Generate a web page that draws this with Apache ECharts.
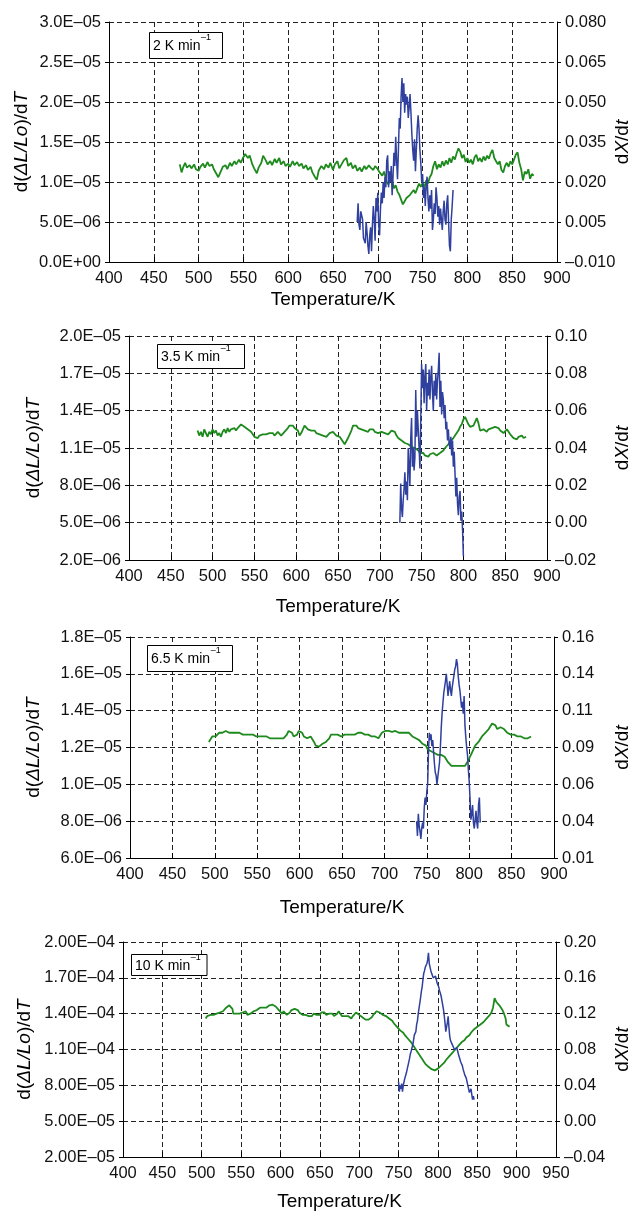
<!DOCTYPE html>
<html><head><meta charset="utf-8">
<script src="https://cdn.jsdelivr.net/npm/echarts@6/dist/echarts.min.js"></script>
<style>html,body{margin:0;padding:0;background:#fff}#c{width:631px;height:1211px}</style>
</head><body><div id="c"></div>
<script>
// ---------- tick labels ----------
const p1LeftLabels = ['0.0E+00','5.0E–06','1.0E–05','1.5E–05','2.0E–05','2.5E–05','3.0E–05'];
const p1RightLabels = ['–0.010','0.005','0.020','0.035','0.050','0.065','0.080'];
const p2LeftLabels = ['2.0E–06','5.0E–06','8.0E–06','1.1E–05','1.4E–05','1.7E–05','2.0E–05'];
const p2RightLabels = ['–0.02','0.00','0.02','0.04','0.06','0.08','0.10'];
const p3LeftLabels = ['6.0E–06','8.0E–06','1.0E–05','1.2E–05','1.4E–05','1.6E–05','1.8E–05'];
const p3RightLabels = ['0.01','0.04','0.06','0.09','0.11','0.14','0.16'];
const p4LeftLabels = ['2.00E–05','5.00E–05','8.00E–05','1.10E–04','1.40E–04','1.70E–04','2.00E–04'];
const p4RightLabels = ['–0.04','0.00','0.04','0.08','0.12','0.16','0.20'];
const heatingRates = ['2', '3.5', '6.5', '10'];

// ---------- data: [T (K), value] ----------
// green: d(ΔL/Lo)/dT, panels 1-3 in units of 1E-05, panel 4 in units of 1E-04
// blue: dX/dt
const p1Green = [[479,1.22],[481,1.12],[483,1.19],[485,1.24],[487,1.18],[490,1.21],[492,1.17],[495,1.22],[497,1.16],[500,1.14],[502,1.19],[505,1.23],[507,1.18],[510,1.25],[512,1.2],[515,1.22],[517,1.16],[520,1.10],[522,1.06],[525,1.14],[527,1.19],[530,1.21],[532,1.16],[535,1.24],[537,1.2],[540,1.26],[542,1.22],[545,1.28],[547,1.24],[550,1.31],[552,1.35],[555,1.3],[557,1.33],[560,1.22],[562,1.17],[565,1.11],[567,1.18],[570,1.24],[572,1.33],[575,1.27],[577,1.22],[580,1.26],[582,1.21],[585,1.29],[587,1.24],[590,1.3],[592,1.22],[595,1.26],[597,1.2],[600,1.23],[602,1.19],[605,1.26],[607,1.21],[610,1.25],[612,1.2],[615,1.23],[617,1.17],[620,1.21],[622,1.15],[625,1.19],[627,1.12],[630,1.06],[632,1.03],[634,1.14],[637,1.2],[640,1.16],[642,1.22],[645,1.18],[647,1.24],[650,1.15],[652,1.22],[655,1.26],[657,1.17],[660,1.23],[662,1.27],[665,1.3],[667,1.2],[670,1.24],[672,1.17],[675,1.21],[677,1.14],[680,1.18],[682,1.13],[685,1.2],[687,1.16],[690,1.21],[692,1.18],[695,1.15],[697,1.2],[700,1.16],[702,1.12],[705,1.08],[707,1.13],[710,1.0],[712,0.97],[714,1.07],[716,1.02],[718,0.92],[720,0.96],[722,0.88],[724,0.84],[726,0.78],[728,0.72],[730,0.76],[732,0.8],[734,0.78],[736,0.84],[738,0.82],[740,0.9],[742,0.86],[744,0.92],[746,0.98],[748,0.94],[750,0.99],[752,0.93],[754,1.02],[756,0.98],[758,1.06],[760,1.1],[762,1.2],[764,1.26],[766,1.16],[768,1.22],[770,1.18],[772,1.26],[774,1.2],[776,1.27],[778,1.22],[780,1.3],[782,1.24],[784,1.32],[786,1.28],[788,1.36],[790,1.42],[792,1.38],[794,1.3],[796,1.34],[798,1.25],[800,1.3],[802,1.24],[804,1.28],[806,1.22],[808,1.31],[810,1.34],[812,1.26],[814,1.3],[816,1.25],[818,1.32],[820,1.27],[822,1.33],[824,1.29],[826,1.36],[828,1.4],[830,1.3],[832,1.26],[834,1.22],[836,1.26],[838,1.15],[840,1.12],[842,1.2],[844,1.24],[846,1.19],[848,1.26],[850,1.22],[852,1.28],[854,1.34],[856,1.37],[858,1.24],[860,1.16],[862,1.02],[864,1.13],[866,1.1],[868,1.16],[870,1.04],[872,1.1],[874,1.08]];
const p1Blue = [[677,0.005],[678,0.012],[679,0.004],[680,0.002],[681,0.009],[683,0.006],[684,-0.001],[686,-0.003],[687,0.005],[688,0.001],[689,-0.004],[690,-0.007],[691,0.0],[692,0.003],[693,-0.006],[694,0.004],[695,0.011],[696,0.006],[697,-0.002],[698,0.014],[699,0.009],[700,0.016],[701,0.004],[702,0.0],[703,0.01],[704,0.016],[705,0.012],[706,0.02],[707,0.014],[708,0.022],[709,0.018],[710,0.028],[711,0.03],[712,0.018],[713,0.024],[714,0.02],[715,0.026],[716,0.015],[717,0.022],[718,0.031],[719,0.026],[720,0.037],[721,0.028],[722,0.021],[723,0.032],[724,0.044],[725,0.04],[726,0.052],[727,0.059],[728,0.05],[729,0.057],[730,0.046],[731,0.053],[732,0.049],[733,0.052],[734,0.044],[735,0.048],[736,0.053],[737,0.046],[738,0.038],[739,0.032],[740,0.028],[741,0.036],[742,0.024],[743,0.032],[744,0.04],[745,0.045],[746,0.04],[747,0.032],[748,0.027],[749,0.02],[750,0.023],[751,0.014],[752,0.018],[753,0.011],[754,0.019],[755,0.022],[756,0.014],[757,0.009],[758,0.015],[759,0.01],[760,0.017],[761,0.002],[762,0.006],[763,0.012],[764,0.008],[765,0.018],[766,0.014],[767,0.007],[768,0.011],[769,0.004],[770,0.01],[771,0.006],[772,0.002],[773,0.009],[774,0.013],[775,0.006],[776,0.004],[777,0.012],[778,0.015],[779,0.005],[780,-0.004],[781,-0.006],[782,0.006],[783,0.011],[784,0.017]];

const p2Green = [[482,1.24],[484,1.2],[486,1.23],[488,1.19],[490,1.25],[492,1.22],[494,1.19],[496,1.23],[498,1.21],[500,1.25],[502,1.22],[504,1.24],[506,1.2],[508,1.22],[510,1.19],[512,1.23],[514,1.25],[516,1.22],[518,1.26],[520,1.23],[522,1.25],[524,1.24],[526,1.26],[528,1.24],[530,1.26],[532,1.27],[534,1.29],[536,1.28],[538,1.27],[540,1.26],[542,1.25],[544,1.25],[546,1.23],[548,1.22],[550,1.19],[552,1.2],[554,1.18],[556,1.2],[558,1.19],[560,1.21],[562,1.2],[564,1.21],[566,1.2],[568,1.22],[570,1.21],[572,1.22],[574,1.2],[576,1.21],[578,1.23],[580,1.22],[582,1.2],[584,1.21],[586,1.23],[588,1.24],[590,1.26],[592,1.28],[594,1.29],[596,1.28],[598,1.26],[600,1.27],[602,1.24],[604,1.2],[606,1.22],[608,1.25],[610,1.28],[612,1.27],[614,1.25],[616,1.26],[618,1.24],[620,1.23],[622,1.24],[624,1.22],[626,1.23],[628,1.21],[630,1.22],[632,1.2],[634,1.21],[636,1.19],[638,1.2],[640,1.22],[642,1.21],[644,1.23],[646,1.22],[648,1.2],[650,1.21],[652,1.19],[654,1.17],[656,1.16],[658,1.13],[660,1.14],[662,1.18],[664,1.21],[666,1.24],[668,1.28],[670,1.27],[672,1.28],[674,1.26],[676,1.27],[678,1.25],[680,1.26],[682,1.24],[684,1.25],[686,1.23],[688,1.25],[690,1.24],[692,1.25],[694,1.23],[696,1.24],[698,1.22],[700,1.21],[702,1.23],[704,1.24],[706,1.22],[708,1.23],[710,1.21],[712,1.22],[714,1.24],[716,1.25],[718,1.23],[720,1.2],[722,1.18],[724,1.17],[726,1.16],[728,1.15],[730,1.14],[732,1.15],[734,1.13],[736,1.12],[738,1.11],[740,1.1],[742,1.1],[744,1.09],[746,1.08],[748,1.06],[750,1.05],[752,1.06],[754,1.04],[756,1.05],[758,1.03],[760,1.05],[762,1.04],[764,1.06],[766,1.05],[768,1.04],[770,1.05],[772,1.06],[774,1.06],[776,1.08],[778,1.1],[780,1.11],[782,1.13],[784,1.15],[786,1.16],[788,1.18],[790,1.2],[792,1.22],[794,1.24],[796,1.27],[798,1.29],[800,1.33],[802,1.35],[804,1.32],[806,1.29],[808,1.27],[810,1.26],[812,1.28],[814,1.31],[816,1.34],[818,1.3],[820,1.24],[822,1.23],[824,1.25],[826,1.24],[828,1.23],[830,1.25],[832,1.24],[834,1.26],[836,1.25],[838,1.27],[840,1.28],[842,1.26],[844,1.24],[846,1.23],[848,1.22],[850,1.23],[852,1.25],[854,1.23],[856,1.21],[858,1.2],[860,1.18],[862,1.19],[864,1.17],[866,1.19],[868,1.18],[870,1.2],[872,1.18],[875,1.19]];
const p2Blue = [[724,0.0],[725,0.021],[726,0.008],[727,0.003],[728,0.012],[729,0.018],[730,0.027],[731,0.015],[732,0.022],[733,0.012],[734,0.04],[735,0.03],[736,0.02],[737,0.045],[738,0.056],[739,0.03],[740,0.04],[741,0.028],[742,0.035],[743,0.071],[744,0.046],[745,0.06],[746,0.05],[747,0.04],[748,0.029],[749,0.055],[750,0.085],[751,0.072],[752,0.082],[753,0.064],[754,0.078],[755,0.085],[756,0.06],[757,0.075],[758,0.068],[759,0.082],[760,0.066],[761,0.078],[762,0.084],[763,0.07],[764,0.06],[765,0.076],[766,0.068],[767,0.08],[768,0.066],[769,0.076],[770,0.082],[771,0.091],[772,0.062],[773,0.076],[774,0.058],[775,0.07],[776,0.066],[777,0.056],[778,0.063],[779,0.05],[780,0.054],[781,0.044],[782,0.05],[783,0.042],[784,0.04],[785,0.046],[786,0.036],[787,0.044],[788,0.03],[789,0.038],[790,0.026],[791,0.014],[792,0.024],[793,0.01],[794,0.004],[795,0.014],[796,0.017],[797,0.001],[798,0.006],[799,-0.004],[800,-0.018]];

const p3Green = [[493,1.23],[495,1.24],[497,1.26],[499,1.27],[501,1.26],[503,1.27],[505,1.28],[507,1.27],[509,1.28],[511,1.27],[513,1.29],[515,1.285],[517,1.28],[519,1.27],[521,1.28],[523,1.29],[525,1.28],[527,1.29],[529,1.28],[531,1.28],[533,1.27],[535,1.28],[537,1.27],[539,1.28],[541,1.27],[543,1.26],[545,1.27],[547,1.265],[549,1.26],[551,1.27],[553,1.26],[555,1.27],[557,1.26],[559,1.27],[561,1.26],[563,1.26],[565,1.25],[567,1.26],[569,1.25],[571,1.24],[573,1.25],[575,1.26],[577,1.25],[579,1.26],[581,1.25],[583,1.26],[585,1.27],[587,1.29],[589,1.3],[591,1.28],[593,1.26],[595,1.25],[597,1.27],[599,1.29],[601,1.3],[603,1.28],[605,1.26],[607,1.27],[609,1.25],[611,1.25],[613,1.26],[615,1.25],[617,1.23],[619,1.21],[621,1.2],[623,1.205],[625,1.21],[627,1.22],[629,1.23],[631,1.23],[633,1.24],[635,1.25],[637,1.27],[639,1.27],[641,1.27],[643,1.26],[645,1.27],[647,1.27],[649,1.26],[651,1.27],[653,1.27],[655,1.26],[657,1.27],[659,1.28],[661,1.27],[663,1.28],[665,1.27],[667,1.28],[669,1.28],[671,1.27],[673,1.28],[675,1.27],[677,1.27],[679,1.26],[681,1.27],[683,1.26],[685,1.26],[687,1.25],[689,1.26],[691,1.255],[693,1.25],[695,1.26],[697,1.28],[699,1.28],[701,1.29],[703,1.28],[705,1.29],[707,1.28],[709,1.285],[711,1.28],[713,1.29],[715,1.28],[717,1.28],[719,1.285],[721,1.28],[723,1.28],[725,1.28],[727,1.27],[729,1.28],[731,1.27],[733,1.26],[735,1.26],[737,1.25],[739,1.24],[741,1.24],[743,1.23],[745,1.22],[747,1.21],[749,1.21],[751,1.19],[753,1.19],[755,1.18],[757,1.18],[759,1.17],[761,1.17],[763,1.16],[765,1.165],[767,1.16],[769,1.155],[771,1.15],[773,1.14],[775,1.12],[777,1.11],[779,1.1],[781,1.095],[783,1.1],[785,1.09],[787,1.1],[789,1.09],[791,1.1],[793,1.09],[795,1.1],[797,1.11],[799,1.13],[801,1.15],[803,1.17],[805,1.19],[807,1.21],[809,1.22],[811,1.23],[813,1.24],[815,1.26],[817,1.27],[819,1.28],[821,1.29],[823,1.3],[825,1.31],[827,1.33],[829,1.335],[831,1.32],[833,1.3],[835,1.3],[837,1.31],[839,1.31],[841,1.3],[843,1.29],[845,1.28],[847,1.27],[849,1.27],[851,1.26],[853,1.27],[855,1.27],[857,1.26],[859,1.27],[861,1.26],[863,1.26],[865,1.25],[867,1.26],[869,1.25],[871,1.24],[873,1.26]];
const p3Blue = [[738,0.035],[739,0.025],[740,0.04],[741,0.032],[742,0.028],[743,0.023],[744,0.03],[745,0.034],[746,0.03],[747,0.044],[748,0.051],[749,0.046],[750,0.055],[751,0.06],[752,0.082],[753,0.095],[754,0.09],[755,0.094],[756,0.086],[757,0.09],[758,0.082],[759,0.074],[760,0.068],[761,0.066],[762,0.06],[763,0.065],[764,0.07],[765,0.075],[766,0.085],[767,0.098],[768,0.108],[769,0.115],[770,0.122],[771,0.126],[772,0.13],[773,0.135],[774,0.128],[775,0.12],[776,0.125],[777,0.13],[778,0.124],[779,0.12],[780,0.126],[781,0.13],[782,0.134],[783,0.138],[784,0.14],[785,0.145],[786,0.142],[787,0.134],[788,0.128],[789,0.124],[790,0.118],[791,0.112],[792,0.116],[793,0.108],[794,0.12],[795,0.1],[796,0.092],[797,0.085],[798,0.08],[799,0.07],[800,0.062],[801,0.05],[802,0.036],[803,0.04],[804,0.046],[805,0.034],[806,0.03],[807,0.036],[808,0.042],[809,0.034],[810,0.03],[811,0.046],[812,0.051],[813,0.034]];

const p4Green = [[505,1.36],[507,1.38],[509,1.37],[511,1.39],[513,1.38],[515,1.39],[517,1.38],[519,1.4],[521,1.39],[523,1.41],[525,1.4],[527,1.42],[529,1.43],[531,1.45],[533,1.46],[535,1.47],[537,1.47],[539,1.44],[540,1.4],[542,1.41],[544,1.4],[546,1.41],[548,1.4],[550,1.39],[552,1.41],[554,1.4],[556,1.42],[558,1.39],[560,1.38],[562,1.4],[564,1.41],[566,1.42],[568,1.43],[570,1.43],[572,1.44],[574,1.45],[576,1.44],[578,1.45],[580,1.46],[582,1.45],[584,1.46],[586,1.47],[588,1.465],[590,1.475],[592,1.47],[594,1.46],[596,1.45],[598,1.43],[600,1.42],[602,1.4],[604,1.42],[606,1.41],[608,1.39],[610,1.4],[612,1.41],[614,1.43],[616,1.42],[618,1.44],[620,1.455],[622,1.43],[624,1.41],[626,1.4],[628,1.39],[630,1.4],[632,1.39],[634,1.4],[636,1.38],[638,1.39],[640,1.38],[642,1.4],[644,1.41],[646,1.39],[648,1.4],[650,1.39],[652,1.41],[654,1.4],[656,1.41],[658,1.39],[660,1.38],[662,1.4],[664,1.39],[666,1.4],[668,1.38],[670,1.39],[672,1.4],[674,1.42],[676,1.4],[678,1.38],[680,1.39],[682,1.38],[684,1.37],[686,1.38],[688,1.37],[690,1.36],[692,1.38],[694,1.39],[696,1.41],[698,1.4],[700,1.39],[702,1.38],[704,1.37],[706,1.37],[708,1.35],[710,1.34],[712,1.35],[714,1.36],[716,1.37],[718,1.39],[720,1.4],[722,1.42],[724,1.43],[726,1.41],[728,1.4],[730,1.39],[732,1.38],[734,1.38],[736,1.37],[738,1.36],[740,1.35],[742,1.34],[744,1.32],[746,1.31],[748,1.29],[750,1.28],[752,1.26],[754,1.25],[756,1.24],[758,1.22],[760,1.21],[762,1.19],[764,1.18],[766,1.16],[768,1.14],[770,1.12],[772,1.1],[774,1.08],[776,1.06],[778,1.04],[780,1.02],[782,1.0],[784,0.98],[786,0.97],[788,0.955],[790,0.94],[792,0.935],[794,0.93],[796,0.925],[798,0.935],[800,0.94],[802,0.95],[804,0.965],[806,0.98],[808,0.99],[810,1.01],[812,1.02],[814,1.04],[816,1.05],[818,1.07],[820,1.08],[822,1.1],[824,1.11],[826,1.13],[828,1.14],[830,1.16],[832,1.17],[834,1.18],[836,1.2],[838,1.21],[840,1.22],[842,1.24],[844,1.25],[846,1.27],[848,1.28],[850,1.29],[852,1.3],[854,1.31],[856,1.32],[858,1.33],[860,1.34],[862,1.36],[864,1.37],[866,1.39],[868,1.41],[870,1.45],[872,1.53],[874,1.5],[876,1.49],[878,1.47],[880,1.46],[882,1.43],[884,1.4],[886,1.36],[887,1.31],[889,1.3],[891,1.29]];
const p4Blue = [[750,0.044],[751,0.033],[752,0.04],[753,0.036],[754,0.042],[755,0.033],[756,0.04],[757,0.044],[758,0.048],[759,0.05],[760,0.054],[761,0.058],[762,0.062],[763,0.064],[764,0.07],[765,0.075],[766,0.078],[767,0.08],[768,0.085],[769,0.09],[770,0.096],[771,0.098],[772,0.1],[773,0.108],[774,0.112],[775,0.12],[776,0.126],[777,0.128],[778,0.138],[779,0.145],[780,0.15],[781,0.158],[782,0.165],[783,0.168],[784,0.172],[785,0.17],[786,0.176],[787,0.18],[788,0.188],[789,0.176],[790,0.172],[791,0.168],[792,0.165],[793,0.163],[794,0.16],[795,0.158],[796,0.16],[797,0.162],[798,0.158],[799,0.154],[800,0.152],[801,0.15],[802,0.146],[803,0.145],[804,0.14],[805,0.135],[806,0.13],[807,0.125],[808,0.118],[809,0.11],[810,0.1],[811,0.098],[812,0.11],[813,0.117],[814,0.105],[815,0.095],[816,0.09],[817,0.088],[818,0.086],[819,0.084],[820,0.085],[821,0.08],[822,0.078],[823,0.08],[824,0.082],[825,0.08],[826,0.075],[827,0.072],[828,0.07],[829,0.066],[830,0.064],[831,0.062],[832,0.058],[833,0.055],[834,0.052],[835,0.05],[836,0.048],[837,0.044],[838,0.04],[839,0.036],[840,0.032],[841,0.03],[842,0.036],[843,0.03],[844,0.024],[845,0.028],[846,0.024]];

// ---------- layout ----------
const FONT = '"Liberation Sans", Arial, Helvetica, sans-serif';
const GREEN = '#1e8a1e', BLUE = '#2f409e';
const panels = [
  {grid:{left:109,top:22,width:448,height:240}, x:[400,900,50], yl:[0,3,0.5], yr:[-0.01,0.08,0.015],
   ll:p1LeftLabels, rl:p1RightLabels, g:p1Green, b:p1Blue, xGap:28.5, lGap:78, rGap:56.5, box:[149.5,32.5,73,26]},
  {grid:{left:129,top:336,width:418,height:224}, x:[400,900,50], yl:[0.2,2.0,0.3], yr:[-0.02,0.10,0.02],
   ll:p2LeftLabels, rl:p2RightLabels, g:p2Green, b:p2Blue, xGap:37, lGap:85.5, rGap:66.5, box:[157.5,344.5,87,24]},
  {grid:{left:130,top:637,width:424,height:221}, x:[400,900,50], yl:[0.6,1.8,0.2], yr:[0.01,0.16,0.025],
   ll:p3LeftLabels, rl:p3RightLabels, g:p3Green, b:p3Blue, xGap:40, lGap:86.5, rGap:59.5, box:[147.5,645.5,85,26]},
  {grid:{left:123,top:942,width:433,height:215}, x:[400,950,50], yl:[0.2,2.0,0.3], yr:[-0.04,0.20,0.04],
   ll:p4LeftLabels, rl:p4RightLabels, g:p4Green, b:p4Blue, xGap:35, lGap:88.5, rGap:57.5, box:[131.5,954.5,75.5,21]}
];
// panel 4 green in units of 1E-04 -> axis in same units (0.2..2.0 = 2E-05..2E-04)

const TICK = 16.5, NAME = 19;
const nameStyle = {fontSize:NAME, fontFamily:FONT, color:'#000',
  rich:{n:{fontSize:NAME,fontFamily:FONT,color:'#000'}, i:{fontSize:NAME,fontFamily:FONT,color:'#000',fontStyle:'italic'}}};
const split = {show:true, lineStyle:{color:'#222', type:[5,3], width:1}};
const axLine = {show:true, onZero:false, lineStyle:{color:'#000', width:1}};

const grids=[], xAxes=[], yAxes=[], series=[], graphic=[];
const lab = (arr, mn, iv) => v => { const k = Math.round((v - mn) / iv); return arr[k] != null ? arr[k] : ''; };

const cv = document.createElement('canvas').getContext('2d');
cv.font = '14px ' + FONT;

panels.forEach((p, i) => {
  grids.push(Object.assign({containLabel:false, outerBoundsMode:'none'}, p.grid));
  xAxes.push({type:'value', gridIndex:i, min:p.x[0], max:p.x[1], interval:p.x[2],
    axisLine:axLine, axisTick:{show:true, inside:true, length:5, lineStyle:{color:'#000'}},
    axisLabel:{fontSize:TICK, fontFamily:FONT, color:'#111', margin:8},
    splitLine:split, name:'Temperature/K', nameLocation:'middle', nameGap:p.xGap, nameMoveOverlap:false,
    nameTextStyle:{fontSize:NAME, fontFamily:FONT, color:'#000'}});
  yAxes.push({type:'value', gridIndex:i, position:'left', min:p.yl[0], max:p.yl[1], interval:p.yl[2],
    axisLine:axLine, axisTick:{show:true, inside:false, length:4, lineStyle:{color:'#000'}},
    axisLabel:{fontSize:TICK, fontFamily:FONT, color:'#111', margin:8, formatter:lab(p.ll, p.yl[0], p.yl[2])},
    splitLine:split, name:'{n|d(}{i|ΔL/Lo}{n|)/d}{i|T}', nameLocation:'middle', nameGap:p.lGap, nameMoveOverlap:false, nameTextStyle:nameStyle});
  yAxes.push({type:'value', gridIndex:i, position:'right', min:p.yr[0], max:p.yr[1], interval:p.yr[2],
    axisLine:axLine, axisTick:{show:true, inside:false, length:4, lineStyle:{color:'#000'}},
    axisLabel:{fontSize:TICK, fontFamily:FONT, color:'#111', margin:8, formatter:lab(p.rl, p.yr[0], p.yr[2])},
    splitLine:{show:false}, name:'{n|d}{i|X}{n|/d}{i|t}', nameLocation:'middle', nameGap:p.rGap, nameMoveOverlap:false, nameTextStyle:nameStyle});
  series.push({type:'line', xAxisIndex:i, yAxisIndex:2*i, data:p.g, showSymbol:false, symbol:'none',
    lineStyle:{color:GREEN, width:1.8}, z:3});
  series.push({type:'line', xAxisIndex:i, yAxisIndex:2*i+1, data:p.b, showSymbol:false, symbol:'none',
    lineStyle:{color:BLUE, width:1.5}, z:4});
  const [bx, by, bw, bh] = p.box;
  graphic.push({type:'rect', shape:{x:bx, y:by, width:bw, height:bh}, style:{fill:'#fff', stroke:'#000', lineWidth:1}, z:100});
  const main = heatingRates[i] + ' K min';
  const tw = cv.measureText(main).width;
  graphic.push({type:'text', x:bx + 3.5, y:by + bh/2 + 1, style:{text:main, fontSize:14, fontFamily:FONT, fill:'#000', verticalAlign:'middle'}, z:101});
  graphic.push({type:'text', x:bx + 3.5 + tw + 0.5, y:by + bh/2 - 3, style:{text:'–1', fontSize:9, fontFamily:FONT, fill:'#000', verticalAlign:'bottom'}, z:101});
});

const chart = echarts.init(document.getElementById('c'), null, {renderer:'canvas'});
chart.setOption({animation:false, backgroundColor:'#fff', grid:grids, xAxis:xAxes, yAxis:yAxes, series, graphic});
</script></body></html>
